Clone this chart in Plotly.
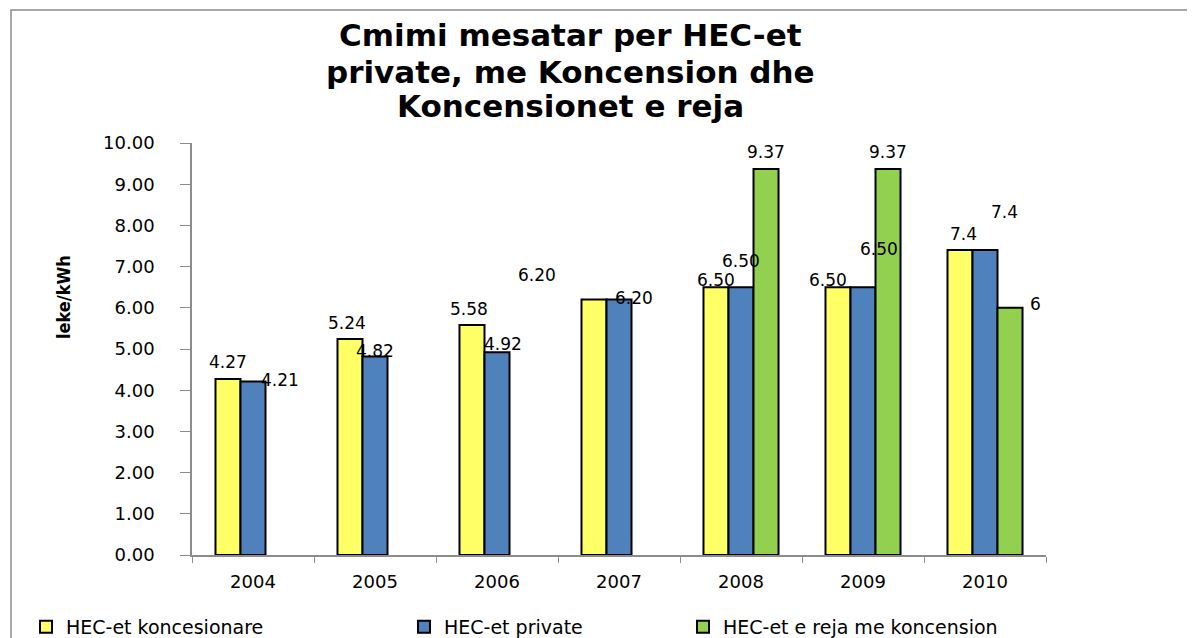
import plotly.graph_objects as go

# ---------------- data ----------------
years = ["2004", "2005", "2006", "2007", "2008", "2009", "2010"]
koncesionare = [4.27, 5.24, 5.58, 6.20, 6.50, 6.50, 7.4]
private = [4.21, 4.82, 4.92, 6.20, 6.50, 6.50, 7.4]
reja = [None, None, None, None, 9.37, 9.37, 6]
koncesionare_labels = ["4.27", "5.24", "5.58", "6.20", "6.50", "6.50", "7.4"]
private_labels = ["4.21", "4.82", "4.92", "6.20", "6.50", "6.50", "7.4"]
reja_labels = ["", "", "", "", "9.37", "9.37", "6"]
series_names = ["HEC-et koncesionare", "HEC-et private", "HEC-et e reja me koncension"]
y_ticks = [0, 1, 2, 3, 4, 5, 6, 7, 8, 9, 10]
y_ticktext = ["%.2f" % v for v in y_ticks]
title_lines = ["Cmimi mesatar per HEC-et", "private, me Koncension dhe", "Koncensionet e reja"]
y_title = "leke/kWh"

# ---------------- layout constants (pixels) ----------------
OFF = 8  # page body margin
W, H = 1187, 630
L, R, T, B = 184, 149, 135, 83
PW, PH = W - L - R, H - T - B
BARW = 25  # approx bar width in pixels


def px2x(px):
    return (px - OFF - L) / PW


def px2y(py):
    return (H - B - (py - OFF)) / PH


colors = ["#FFFF66", "#4F81BD", "#92D050"]
# label offsets (dx, dy in px) relative to the bar top centre
off_k = [(0, -17), (-3, -16), (-3, -16), (-57, -25), (0, -7), (-10, -7), (3, -16)]
off_p = [(27, -2), (0, -5), (6, -8), (15, -2), (0, -26), (16, -38), (19, -38)]
off_r = [(0, 0), (0, 0), (0, 0), (0, 0), (0, -17), (0, -17), (25, -4)]
legend_ids = ["legend", "legend2", "legend3"]
legend_px = [26, 404, 683]

fig = go.Figure()
for name, vals, col, lid in zip(series_names, [koncesionare, private, reja], colors, legend_ids):
    fig.add_trace(go.Bar(
        x=years, y=vals, name=name, legend=lid,
        marker=dict(color=col, line=dict(color="black", width=2)),
    ))

label_font = dict(family="DejaVu Sans", size=17, color="black")
annotations = []
for si, (vals, labs, offs) in enumerate(zip([koncesionare, private, reja],
                                            [koncesionare_labels, private_labels, reja_labels],
                                            [off_k, off_p, off_r])):
    for xi, (v, lab, (dx, dy)) in enumerate(zip(vals, labs, offs)):
        if v is None or lab == "":
            continue
        annotations.append(dict(
            x=xi, y=v, xref="x", yref="y", text=lab, showarrow=False,
            xshift=(si - 1) * BARW + dx, yshift=-dy, yanchor="middle",
            font=label_font,
        ))

title_y = [35, 72, 106]
for line, py in zip(title_lines, title_y):
    annotations.append(dict(
        x=px2x(570), y=px2y(py), xref="paper", yref="paper", text="<b>%s</b>" % line,
        showarrow=False, xanchor="center", yanchor="middle",
        font=dict(family="DejaVu Sans", size=31, color="black"),
    ))

annotations.append(dict(
    x=px2x(63), y=px2y(297), xref="paper", yref="paper", text="<b>%s</b>" % y_title,
    showarrow=False, textangle=-90, xanchor="center", yanchor="middle",
    font=dict(family="DejaVu Sans Condensed, Roboto Condensed, DejaVu Sans, sans-serif",
              size=18, color="black"),
))

legend_common = dict(
    orientation="h", yanchor="middle", y=px2y(627), xanchor="left",
    font=dict(family="DejaVu Sans", size=19, color="black"),
    bgcolor="rgba(0,0,0,0)",
)
legends = {lid: dict(legend_common, x=px2x(lx)) for lid, lx in zip(legend_ids, legend_px)}

fig.update_layout(
    width=W, height=H,
    margin=dict(l=L, r=R, t=T, b=B, autoexpand=False),
    paper_bgcolor="white", plot_bgcolor="white",
    barmode="group", bargap=0.385, bargroupgap=0,
    showlegend=True,
    annotations=annotations,
    shapes=[dict(type="rect", xref="paper", yref="paper",
                 x0=px2x(11), x1=px2x(1205), y0=px2y(10), y1=px2y(650),
                 line=dict(color="#8c8c8c", width=1.5), fillcolor="rgba(0,0,0,0)",
                 layer="below")],
    **legends,
)

fig.update_xaxes(
    type="category",
    showline=True, linecolor="#8c8c8c", linewidth=1.5,
    ticks="outside", tickson="boundaries", ticklen=6, tickcolor="#8c8c8c",
    tickfont=dict(family="DejaVu Sans", size=18, color="black"),
    showgrid=False, ticklabelstandoff=10,
)
fig.update_yaxes(
    range=[0, 10], tickvals=y_ticks, ticktext=y_ticktext,
    showline=True, linecolor="#8c8c8c", linewidth=1.5,
    ticks="outside", ticklen=10, tickcolor="#8c8c8c",
    tickfont=dict(family="DejaVu Sans", size=18, color="black"),
    showgrid=False, zeroline=False, ticklabelstandoff=22,
)

fig.write_html("out.html")
